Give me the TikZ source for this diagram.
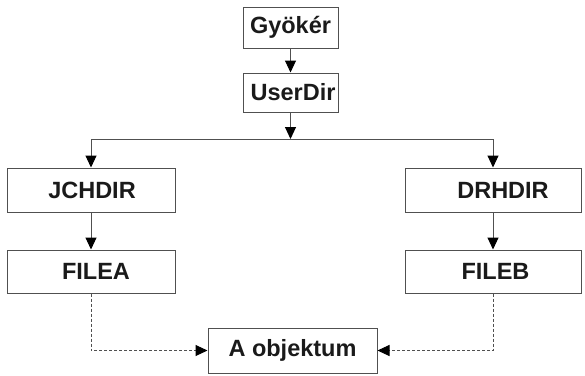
\documentclass[tikz,border=0pt]{standalone}
\usepackage{fontspec}
\setmainfont{Liberation Sans}
\usetikzlibrary{arrows.meta}
\definecolor{linegray}{HTML}{505050}
\definecolor{txt}{HTML}{1A1A1A}
\begin{document}
\begin{tikzpicture}[x=1pt,y=-1pt,
  box/.style={draw=linegray, line width=1pt, rectangle, inner sep=0pt,
    font=\fontsize{23.5}{26}\selectfont\bfseries, text=txt},
  arr/.style={draw=linegray, line width=1pt, -{Triangle[length=12pt,width=11pt,fill=black,color=black]}},
  dasharr/.style={arr, dash pattern=on 3pt off 2pt}
]
\useasboundingbox (0,0) rectangle (585,375);
\node[box, minimum width=95pt, minimum height=41pt] (g) at (290.5,27.5) {Gyökér};
\node[box, minimum width=95pt, minimum height=39pt] (u) at (290.5,92.5) {\hspace*{5pt}UserDir};
\node[box, minimum width=168pt, minimum height=44pt] (j) at (91,190) {\hspace*{2pt}JCHDIR};
\node[box, minimum width=168pt, minimum height=43pt] (fa) at (91,271.5) {\hspace*{10pt}FILEA};
\node[box, minimum width=176pt, minimum height=44pt] (d) at (493,190) {\hspace*{20pt}DRHDIR};
\node[box, minimum width=176pt, minimum height=43pt] (fb) at (493,271.5) {\hspace*{5pt}FILEB};
\node[box, minimum width=169pt, minimum height=45pt] (o) at (292.5,350.5) {A objektum};
\coordinate (split) at (290.5,139);
\draw[arr] (g) -- (u);
\draw[arr] (u) -- (split);
\draw[arr] (split) -| (j.north);
\draw[arr] (split) -| (d.north);
\draw[arr] (j) -- (fa);
\draw[arr] (d) -- (fb);
\draw[dasharr] (fa.south) |- (o.west);
\draw[dasharr] (fb.south) |- (o.east);
\end{tikzpicture}
\end{document}
